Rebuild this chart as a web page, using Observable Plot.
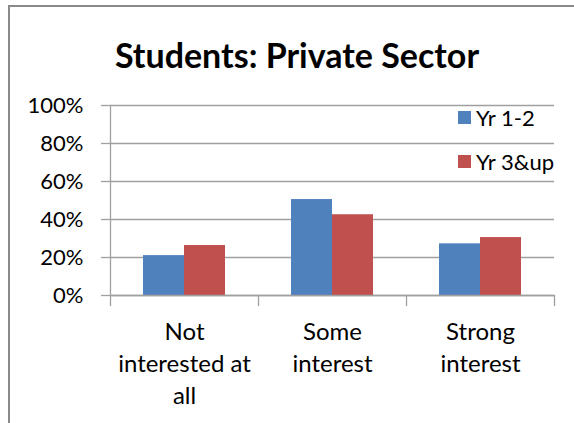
<!DOCTYPE html>
<html>
<head>
<meta charset="utf-8">
<script src="https://cdn.jsdelivr.net/npm/d3@7"></script>
<script src="https://cdn.jsdelivr.net/npm/@observablehq/plot@0.6"></script>
<style>
  html, body { margin: 0; padding: 0; background: #fff; }
  #wrap { position: relative; width: 574px; height: 423px; overflow: hidden; font-family: Lato, "Open Sans", sans-serif; }
  #frame { position: absolute; left: 8px; top: 5px; width: 700px; height: 600px; border-left: 2px solid #898989; border-top: 2px solid #898989; }
  #title { position: absolute; left: 0; width: 594px; top: 38px; text-align: center; font-weight: bold; font-size: 34px; line-height: 34px; color: #000; }
  #chart { position: absolute; left: 0; top: 0; }
  .leg { position: absolute; left: 458px; height: 24px; display: flex; align-items: center; font-size: 22px; color: #000; }
  .leg .sw { width: 13px; height: 13px; margin-right: 5px; }
</style>
</head>
<body>
<div id="wrap">
  <div id="frame"></div>
  <div id="chart"></div>
  <div id="title">Students: Private Sector</div>
  <div id="legend"></div>
</div>
<script>
const categories = ["Not interested at all", "Some interest", "Strong interest"];
const categoryLabels = ["Not\ninterested at\nall", "Some\ninterest", "Strong\ninterest"];
const series = ["Yr 1-2", "Yr 3&up"];
const yr12 = [0.21, 0.505, 0.272];
const yr3up = [0.263, 0.425, 0.305];
const yTicks = [0, 0.2, 0.4, 0.6, 0.8, 1];
const colors = ["#4F81BD", "#C0504D"];

const data = categories.flatMap((c, i) => [
  {category: c, series: series[0], value: yr12[i]},
  {category: c, series: series[1], value: yr3up[i]}
]);

const gridColor = "#a0a0a0";

const chart = Plot.plot({
  width: 574,
  height: 423,
  marginTop: 105,
  marginBottom: 128,
  marginLeft: 110,
  marginRight: 20,
  style: {fontFamily: "Lato, 'Open Sans', sans-serif", background: "transparent"},
  fx: {domain: categories, paddingInner: 0, paddingOuter: 0, label: null},
  x: {domain: series, paddingInner: 0, paddingOuter: 0.762, axis: null},
  y: {domain: [0, 1], label: null},
  color: {domain: series, range: colors},
  marks: [
    Plot.gridY(yTicks, {stroke: gridColor, strokeOpacity: 1, strokeWidth: 1.3}),
    Plot.barY(data, {fx: "category", x: "series", y: "value", fill: "series"}),
    Plot.ruleY([0], {stroke: gridColor, strokeWidth: 1.3}),
    Plot.frame({anchor: "left", facetAnchor: "left", stroke: gridColor, strokeWidth: 1.3}),
    Plot.frame({anchor: "left", insetTop: 190, insetBottom: -10, stroke: gridColor, strokeWidth: 1.3}),
    Plot.frame({anchor: "right", facetAnchor: "right", insetTop: 190, insetBottom: -10, stroke: gridColor, strokeWidth: 1.3}),
    Plot.axisY(yTicks, {tickFormat: d3.format(".0%"), tickSize: 9, tickPadding: 18, fontSize: 22, stroke: gridColor, strokeWidth: 1.3, fill: "#000"}),
    Plot.axisFx({anchor: "bottom", tickSize: 0, tickPadding: 22, fontSize: 24, lineHeight: 1.33, fill: "#000",
      tickFormat: d => categoryLabels[categories.indexOf(d)]})
  ]
});
document.getElementById("chart").appendChild(chart);

const legend = document.getElementById("legend");
series.forEach((s, i) => {
  const item = document.createElement("div");
  item.className = "leg";
  item.style.top = (105 + i * 44) + "px";
  const sw = document.createElement("div");
  sw.className = "sw";
  sw.style.background = colors[i];
  const t = document.createElement("span");
  t.textContent = s;
  item.appendChild(sw);
  item.appendChild(t);
  legend.appendChild(item);
});
</script>
</body>
</html>
